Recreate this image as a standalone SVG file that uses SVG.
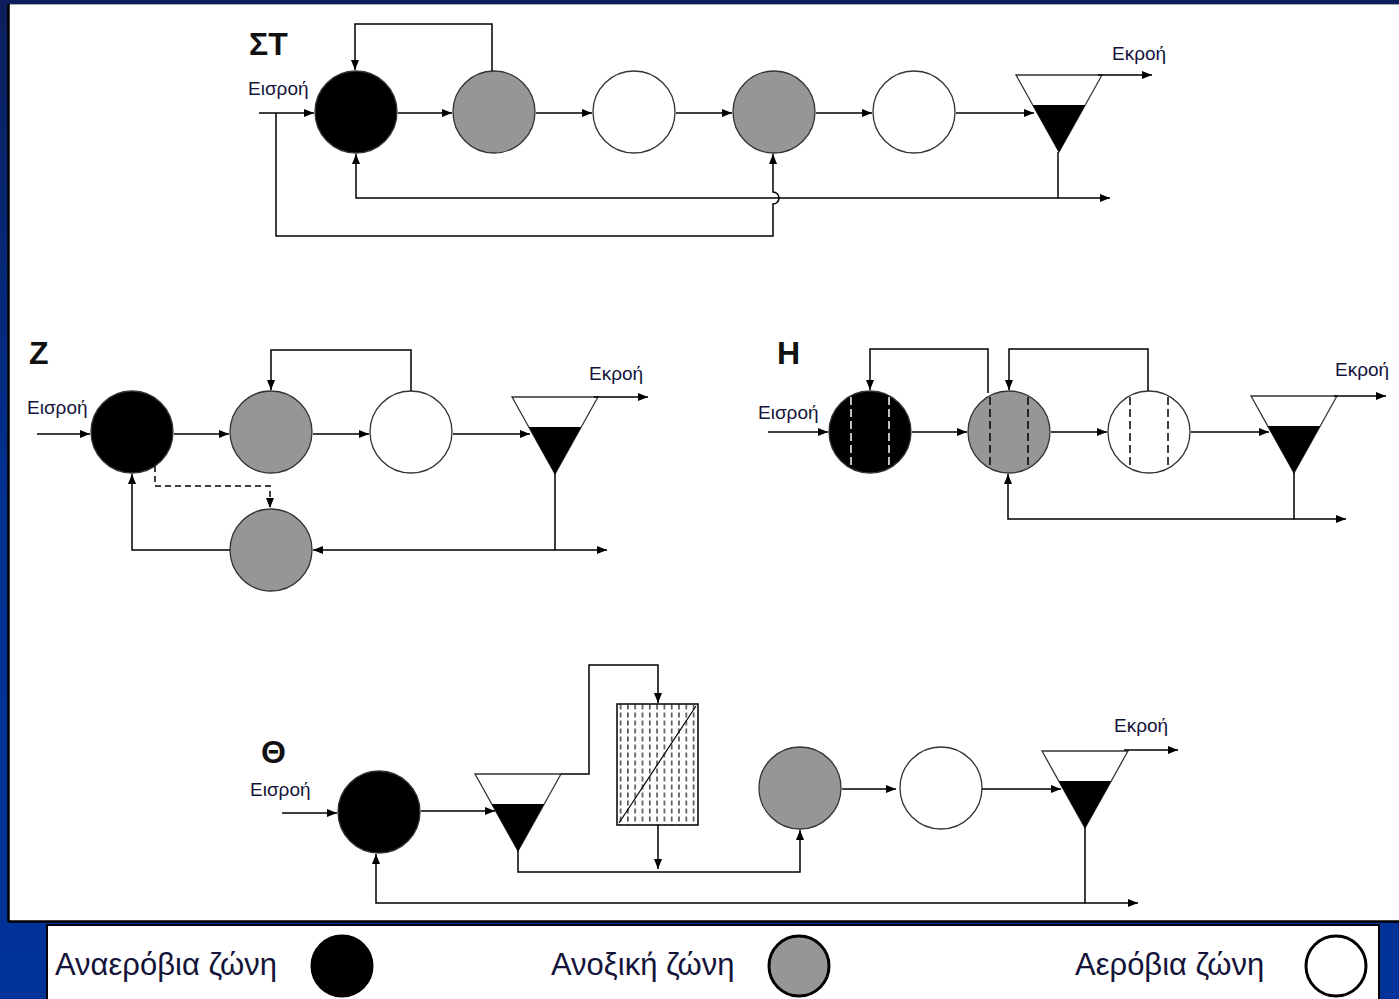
<svg xmlns="http://www.w3.org/2000/svg" width="1399" height="999" viewBox="0 0 1399 999">
<style>
.c{stroke:#333;stroke-width:1.3}
.k{fill:#000}
.g{fill:#969696}
.w{fill:#fff}
.ln{fill:none;stroke:#000;stroke-width:1.5}
.ar{marker-end:url(#ah)}
.ds{stroke-dasharray:6,4}
.zd{stroke-dasharray:8,4}
.lbl{font-family:"Liberation Sans",Arial,sans-serif;font-size:19px;fill:#14143a}
.ttl{font-family:"Liberation Sans",Arial,sans-serif;font-size:32px;font-weight:bold;fill:#111}
.leg{font-family:"Liberation Sans",Arial,sans-serif;font-size:31px;fill:#14143a}
.tri{fill:#fff;stroke:#333;stroke-width:1.3}
.sl{fill:#000}
.lc{stroke:#000;stroke-width:3}
</style>
<defs>
<linearGradient id="bg" x1="0" y1="0" x2="0" y2="1">
<stop offset="0" stop-color="#0c1f5a"/>
<stop offset="0.5" stop-color="#00308f"/>
<stop offset="1" stop-color="#003399"/>
</linearGradient>
<marker id="ah" markerUnits="userSpaceOnUse" markerWidth="11" markerHeight="9" refX="10" refY="4" orient="auto">
<path d="M0,0 L10,4 L0,8 z" fill="#000"/>
</marker>
<pattern id="dash" patternUnits="userSpaceOnUse" x="617" y="704" width="7.3" height="8">
<line x1="3.6" y1="0.5" x2="3.6" y2="5.5" stroke="#000" stroke-width="1.1"/>
</pattern>
<g id="clar">
<polygon class="tri" points="0,0 86,0 43,77"/>
<polygon class="sl" points="16.8,30 69.2,30 43,77"/>
</g>
</defs>

<rect x="0" y="0" width="1399" height="999" fill="url(#bg)"/>
<rect x="9" y="5" width="1390" height="916" fill="#fff"/>
<line x1="9" y1="4.5" x2="1399" y2="4.5" stroke="#aaa" stroke-width="1"/>
<line x1="8.5" y1="4" x2="8.5" y2="922" stroke="#000" stroke-width="2.5"/>
<line x1="8" y1="921.5" x2="1399" y2="921.5" stroke="#000" stroke-width="2.5"/>
<rect x="47" y="925" width="1332" height="80" fill="#fff" stroke="#000" stroke-width="2"/>

<!-- Section ΣΤ -->
<g id="st-title"><text class="ttl" x="249" y="55">ΣΤ</text></g>
<g id="st-in-label"><text class="lbl" x="248" y="95">Εισροή</text></g>
<g id="st-out-label"><text class="lbl" x="1112" y="60">Εκροή</text></g>
<g id="st-anaerobic"><circle class="c k" cx="356" cy="112" r="41"/></g>
<g id="st-anoxic1"><circle class="c g" cx="494" cy="112" r="41"/></g>
<g id="st-aerobic1"><circle class="c w" cx="634" cy="112" r="41"/></g>
<g id="st-anoxic2"><circle class="c g" cx="774" cy="112" r="41"/></g>
<g id="st-aerobic2"><circle class="c w" cx="914" cy="112" r="41"/></g>
<g id="st-clarifier"><use href="#clar" x="1016" y="75"/></g>

<!-- Section Z -->
<g id="z-title"><text class="ttl" x="29" y="364">Z</text></g>
<g id="z-in-label"><text class="lbl" x="27" y="414">Εισροή</text></g>
<g id="z-out-label"><text class="lbl" x="589" y="380">Εκροή</text></g>
<g id="z-anaerobic"><circle class="c k" cx="132" cy="432" r="41"/></g>
<g id="z-anoxic"><circle class="c g" cx="271" cy="432" r="41"/></g>
<g id="z-aerobic"><circle class="c w" cx="411" cy="432" r="41"/></g>
<g id="z-anoxic2"><circle class="c g" cx="271" cy="550" r="41"/></g>
<g id="z-clarifier"><use href="#clar" x="512" y="397"/></g>

<!-- Section H -->
<g id="h-title"><text class="ttl" x="777" y="364">H</text></g>
<g id="h-in-label"><text class="lbl" x="758" y="419">Εισροή</text></g>
<g id="h-out-label"><text class="lbl" x="1335" y="376">Εκροή</text></g>
<g id="h-anaerobic"><circle class="c k" cx="870" cy="432" r="41"/>
<line x1="851" y1="397" x2="851" y2="468" stroke="#fff" stroke-width="1.5" class="zd"/>
<line x1="889" y1="397" x2="889" y2="468" stroke="#fff" stroke-width="1.5" class="zd"/></g>
<g id="h-anoxic"><circle class="c g" cx="1009" cy="432" r="41"/>
<line x1="990" y1="397" x2="990" y2="468" stroke="#000" stroke-width="1.5" class="zd"/>
<line x1="1028" y1="397" x2="1028" y2="468" stroke="#000" stroke-width="1.5" class="zd"/></g>
<g id="h-aerobic"><circle class="c w" cx="1149" cy="432" r="41"/>
<line x1="1130" y1="397" x2="1130" y2="468" stroke="#000" stroke-width="1.5" class="zd"/>
<line x1="1168" y1="397" x2="1168" y2="468" stroke="#000" stroke-width="1.5" class="zd"/></g>
<g id="h-clarifier"><use href="#clar" x="1251" y="396"/></g>

<!-- Section Θ -->
<g id="th-title"><text class="ttl" x="261" y="763">Θ</text></g>
<g id="th-in-label"><text class="lbl" x="250" y="796">Εισροή</text></g>
<g id="th-out-label"><text class="lbl" x="1114" y="732">Εκροή</text></g>
<g id="th-anaerobic"><circle class="c k" cx="379" cy="812" r="41"/></g>
<g id="th-clarifier1"><use href="#clar" x="475" y="774"/></g>
<g id="th-filter"><rect x="617" y="704" width="81" height="121" fill="url(#dash)" stroke="#000" stroke-width="1.5"/>
<line x1="619" y1="823" x2="696" y2="706" stroke="#000" stroke-width="1.2"/></g>
<g id="th-anoxic"><circle class="c g" cx="800" cy="788" r="41"/></g>
<g id="th-aerobic"><circle class="c w" cx="941" cy="788" r="41"/></g>
<g id="th-clarifier2"><use href="#clar" x="1042" y="751"/></g>

<!-- Legend -->
<g id="legend-anaerobic"><text class="leg" x="55" y="975">Αναερόβια ζώνη</text><ellipse class="lc" cx="342" cy="966" rx="30" ry="30" fill="#000"/></g>
<g id="legend-anoxic"><text class="leg" x="551" y="975">Ανοξική ζώνη</text><ellipse class="lc" cx="799" cy="966" rx="30" ry="30" fill="#969696"/></g>
<g id="legend-aerobic"><text class="leg" x="1075" y="975">Αερόβια ζώνη</text><ellipse class="lc" cx="1336" cy="966" rx="30" ry="30" fill="#fff"/></g>

<g id="connectors">
<!-- ΣΤ -->
<path class="ln ar" d="M259,113 H314"/>
<path class="ln ar" d="M398,113 H452"/>
<path class="ln ar" d="M536,113 H592"/>
<path class="ln ar" d="M676,113 H732"/>
<path class="ln ar" d="M816,113 H872"/>
<path class="ln ar" d="M956,113 H1034"/>
<path class="ln ar" d="M492,71 V24 H355 V70"/>
<path class="ln ar" d="M1098,75 H1152"/>
<path class="ln ar" d="M1058,152 V198 H1110"/>
<path class="ln ar" d="M1058,198 H356 V154"/>
<path class="ln ar" d="M276,113 V236 H773 V204 A6,6 0 0 0 773,192 V154"/>
<!-- Z -->
<path class="ln ar" d="M37,434 H90"/>
<path class="ln ar" d="M174,434 H229"/>
<path class="ln ar" d="M313,434 H369"/>
<path class="ln ar" d="M453,434 H530"/>
<path class="ln ar" d="M411,391 V350 H271 V390"/>
<path class="ln ar" d="M594,397 H648"/>
<path class="ln ar" d="M555,473 V550 H607"/>
<path class="ln ar" d="M555,550 H313"/>
<path class="ln ar" d="M230,550 H132 V474"/>
<path class="ln ar ds" d="M155,466 V486 H270 V508"/>
<!-- H -->
<path class="ln ar" d="M768,432 H828"/>
<path class="ln ar" d="M912,432 H967"/>
<path class="ln ar" d="M1051,432 H1107"/>
<path class="ln ar" d="M1191,432 H1269"/>
<path class="ln ar" d="M988,393 V349 H870 V390"/>
<path class="ln ar" d="M1148,391 V349 H1009 V390"/>
<path class="ln ar" d="M1334,396 H1386"/>
<path class="ln ar" d="M1294,470 V519 H1346"/>
<path class="ln ar" d="M1294,519 H1008 V474"/>
<!-- Θ -->
<path class="ln ar" d="M282,813 H337"/>
<path class="ln ar" d="M421,811 H495"/>
<path class="ln ar" d="M561,774 H589 V665 H658 V703"/>
<path class="ln ar" d="M658,825 V869"/>
<path class="ln ar" d="M518,850 V872 H800 V830"/>
<path class="ln ar" d="M842,789 H896"/>
<path class="ln ar" d="M982,789 H1061"/>
<path class="ln ar" d="M1124,750 H1178"/>
<path class="ln ar" d="M1085,826 V903 H1138"/>
<path class="ln ar" d="M1085,903 H376 V854"/>
</g>
</svg>
